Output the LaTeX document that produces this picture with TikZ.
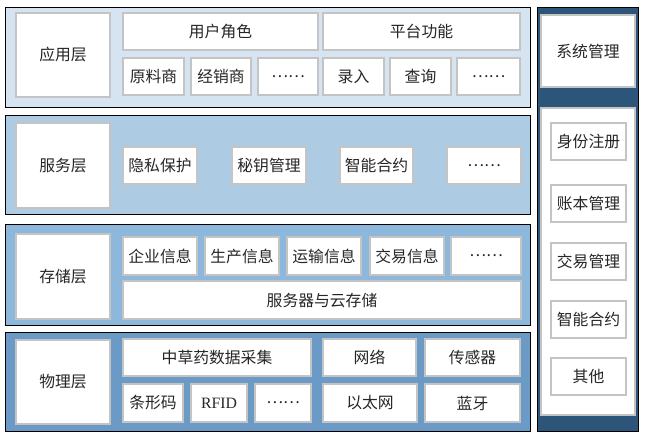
\documentclass[tikz,border=0pt]{standalone}
\usepackage{fontspec}
\setmainfont{Noto Sans CJK SC}
\newfontfamily\latinserif{Liberation Serif}
\definecolor{appfill}{HTML}{D5E4F0}
\definecolor{srvfill}{HTML}{ADCBE3}
\definecolor{stofill}{HTML}{8DB8DC}
\definecolor{phyfill}{HTML}{6C9AC6}
\definecolor{sysfill}{HTML}{2D5579}
\definecolor{boxline}{HTML}{C4C4C4}
\tikzset{
  layer/.style={draw=black, line width=0.9pt, inner sep=0pt, outer sep=0pt, anchor=north west},
  wbox/.style={draw=boxline, fill=white, line width=1.6pt, inner sep=0pt, outer sep=0pt, anchor=north west,
    font=\fontsize{15.8}{18}\selectfont, text=black!85},
}
\newcommand\mybox[6]{\node[wbox, minimum width=#4pt, minimum height=#5pt] (#1) at (#2,#3) {#6};}
\begin{document}
\begin{tikzpicture}[x=1pt,y=-1pt]
\useasboundingbox (0,0) rectangle (645,442);
% layers
\node[layer, fill=appfill, minimum width=525pt, minimum height=100pt] (L1) at (5,7) {};
\node[layer, fill=srvfill, minimum width=525pt, minimum height=99pt] (L2) at (5,115) {};
\node[layer, fill=stofill, minimum width=525pt, minimum height=101pt] (L3) at (5,224) {};
\node[layer, fill=phyfill, minimum width=525pt, minimum height=99pt] (L4) at (5,332) {};
\node[layer, fill=sysfill, minimum width=101pt, minimum height=424pt] (S) at (537,7) {};
% layer labels
\mybox{la}{16}{13}{94}{84}{应用层}
\mybox{lb}{16}{123}{94}{85}{服务层}
\mybox{lc}{16}{234}{94}{85}{存储层}
\mybox{ld}{16}{340}{94}{84}{物理层}
% application layer
\mybox{a1}{123}{13}{195}{37}{用户角色}
\mybox{a2}{323}{13}{197}{37}{平台功能}
\mybox{a3}{123}{58}{61}{37}{原料商}
\mybox{a4}{191}{58}{60}{37}{经销商}
\mybox{a5}{258}{58}{60}{37}{……}
\mybox{a6}{323}{58}{61}{37}{录入}
\mybox{a7}{390}{58}{61}{37}{查询}
\mybox{a8}{457}{58}{63}{37}{……}
% service layer
\mybox{b1}{123}{147}{74}{37}{隐私保护}
\mybox{b2}{232}{147}{74}{37}{秘钥管理}
\mybox{b3}{340}{147}{73}{37}{智能合约}
\mybox{b4}{447}{147}{74}{37}{……}
% storage layer
\mybox{c1}{123}{237}{74}{38}{企业信息}
\mybox{c2}{205}{237}{74}{38}{生产信息}
\mybox{c3}{287}{237}{74}{38}{运输信息}
\mybox{c4}{370}{237}{74}{38}{交易信息}
\mybox{c5}{451}{237}{70}{38}{……}
\mybox{c6}{123}{281}{398}{38}{服务器与云存储}
% physical layer
\mybox{d1}{123}{339}{188}{37}{中草药数据采集}
\mybox{d2}{323}{339}{93}{37}{网络}
\mybox{d3}{425}{339}{95}{37}{传感器}
\mybox{d4}{123}{384}{60}{38}{条形码}
\mybox{d5}{191}{384}{56}{38}{{\latinserif RFID}}
\mybox{d6}{255}{384}{56}{38}{……}
\mybox{d7}{323}{384}{94}{38}{以太网}
\mybox{d8}{425}{384}{95}{38}{蓝牙}
% system management
\mybox{s0}{541}{15}{94}{72}{系统管理}
\mybox{sp}{541}{108}{94}{307}{}
\mybox{s1}{551}{123}{75}{37}{身份注册}
\mybox{s2}{551}{185}{75}{37}{账本管理}
\mybox{s3}{551}{243}{75}{37}{交易管理}
\mybox{s4}{551}{301}{75}{37}{智能合约}
\mybox{s5}{551}{358}{75}{37}{其他}
\end{tikzpicture}
\end{document}
